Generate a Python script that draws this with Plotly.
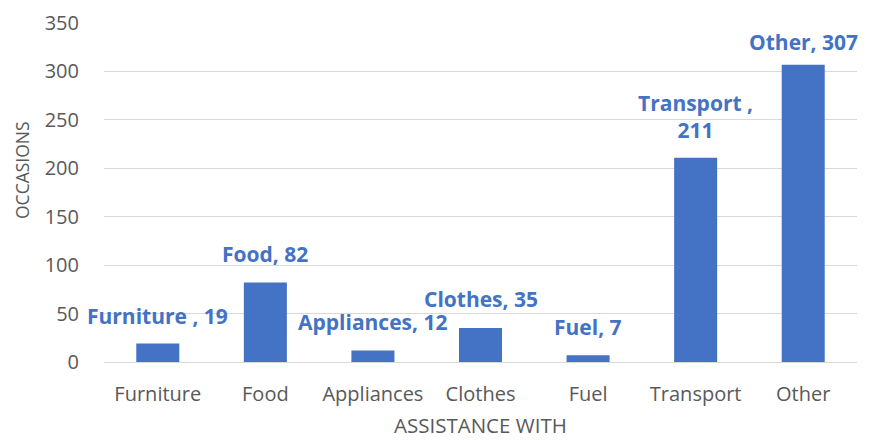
import plotly.graph_objects as go

categories = ["Furniture", "Food", "Appliances", "Clothes", "Fuel", "Transport", "Other"]
values = [19, 82, 12, 35, 7, 211, 307]
label_texts = ["Furniture , 19", "Food, 82", "Appliances, 12", "Clothes, 35", "Fuel, 7", "Transport ,<br>211", "Other, 307"]
y_ticks = [0, 50, 100, 150, 200, 250, 300, 350]
x_title = "ASSISTANCE WITH"
y_title = "OCCASIONS"

BLUE = "#4472C4"
GRAY = "#595959"
FONT = "Open Sans"

fig = go.Figure()
fig.add_trace(go.Bar(x=categories, y=values, marker=dict(color=BLUE, line=dict(width=0)), width=0.4))

label_yshift = [12, 13, 12, 13, 12, 12, 7]
for c, v, t, ys in zip(categories, values, label_texts, label_yshift):
    fig.add_annotation(x=c, y=v, text="<b>" + t + "</b>", showarrow=False, yanchor="bottom",
                       yshift=ys, font=dict(family=FONT, size=21, color=BLUE))

# axis titles placed as annotations (Excel-style placement)
fig.add_annotation(xref="paper", yref="paper", x=0.5, y=0, xanchor="center", yanchor="middle",
                   yshift=-63, text=x_title, showarrow=False, font=dict(family=FONT, size=20.5, color=GRAY))
fig.add_annotation(xref="paper", yref="paper", x=0, y=0, xanchor="center", yanchor="middle",
                   xshift=-82, yshift=192, textangle=-90, text=y_title, showarrow=False,
                   font=dict(family=FONT, size=17.5, color=GRAY))

fig.update_layout(
    width=869, height=432,
    margin=dict(l=96, r=20, t=15, b=78, autoexpand=False),
    paper_bgcolor="white", plot_bgcolor="white",
    showlegend=False,
    font=dict(family=FONT, color=GRAY, size=18),
    xaxis=dict(range=[-0.5, 6.5], tickfont=dict(size=20, color=GRAY), showline=False, showgrid=False,
               ticks="outside", ticklen=14, tickcolor="rgba(0,0,0,0)", automargin=False),
    yaxis=dict(range=[0, 350], tickvals=y_ticks, tickfont=dict(size=20, color=GRAY),
               showgrid=True, gridcolor="#D9D9D9", gridwidth=1.3, zeroline=True,
               zerolinecolor="#D9D9D9", zerolinewidth=1.3,
               ticks="outside", ticklen=20, tickcolor="rgba(0,0,0,0)", automargin=False),
)

fig.write_html("out.html")
